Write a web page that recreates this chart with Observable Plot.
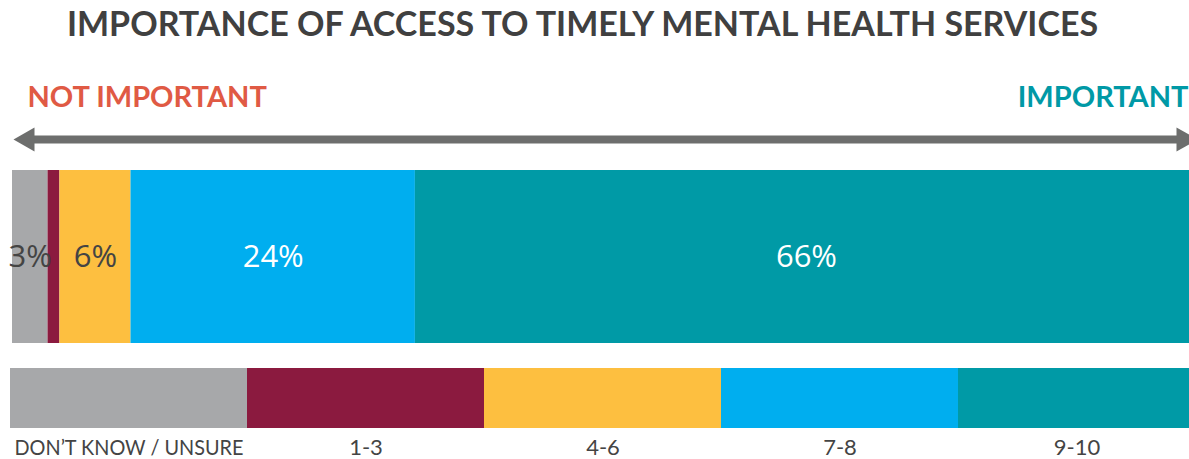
<!DOCTYPE html>
<html>
<head>
<meta charset="utf-8">
<script src="https://cdn.jsdelivr.net/npm/d3@7"></script>
<script src="https://cdn.jsdelivr.net/npm/@observablehq/plot@0.6"></script>
<style>
  html, body { margin: 0; padding: 0; background: #fff; overflow: hidden; }
  #title { height: 48px; line-height: 46px; text-align: center; padding-right: 24px; font-family: Lato, sans-serif; font-weight: 700; font-size: 34px; color: #404040; white-space: nowrap; }
  svg { display: block; overflow: visible; }
</style>
</head>
<body>
<div id="title">IMPORTANCE OF ACCESS TO TIMELY MENTAL HEALTH SERVICES</div>
<div id="main"></div>
<div id="legend"></div>
<script>
const categories = ["DON’T KNOW / UNSURE", "1-3", "4-6", "7-8", "9-10"];
const values = [3, 1, 6, 24, 66];
const leftLabel = "NOT IMPORTANT";
const rightLabel = "IMPORTANT";

const data = categories.map((c, i) => ({category: c, value: values[i]}));
const colorScale = {domain: categories, range: ["#A7A8AA", "#8B1A3F", "#FDBF40", "#00AEEF", "#009AA6"]};
const darkLabel = new Set(["DON’T KNOW / UNSURE", "4-6"]);

const main = Plot.plot({
  width: 1189,
  height: 297,
  marginLeft: 12,
  marginRight: 1,
  marginTop: 122,
  marginBottom: 2,
  x: {domain: [0, 100], range: [12, 1197], axis: null},
  y: {domain: [0, 1], axis: null},
  color: colorScale,
  marks: [
    Plot.text([leftLabel], {frameAnchor: "top-left", text: d => d, dx: 15, dy: -73, lineAnchor: "middle", textAnchor: "start", fill: "#E05A44", fontSize: 29, fontWeight: 700, fontFamily: "Lato, sans-serif"}),
    Plot.text([rightLabel], {frameAnchor: "top-right", text: d => d, dx: 0, dy: -73, lineAnchor: "middle", textAnchor: "end", fill: "#0099A6", fontSize: 29, fontWeight: 700, fontFamily: "Lato, sans-serif"}),
    Plot.ruleY([1], {x1: 0, x2: 100, dy: -31, stroke: "#6D6E6D", strokeWidth: 8, insetLeft: 18, insetRight: 18}),
    Plot.dot([0], {x: d => d, y: 1, dx: 15, dy: -31, symbol: "triangle", r: 9, rotate: -90, fill: "#6D6E6D", stroke: "none"}),
    Plot.dot([100], {x: d => d, y: 1, dx: -14, dy: -31, symbol: "triangle", r: 9, rotate: 90, fill: "#6D6E6D", stroke: "none"}),
    Plot.barX(data, {x: "value", fill: "category"}),
    Plot.text(data, Plot.stackX({x: "value", text: d => d.value >= 2 ? `${d.value}%` : null, fill: d => darkLabel.has(d.category) ? "#444444" : "#ffffff", fontSize: 31, fontFamily: "'Open Sans', sans-serif", lineAnchor: "middle"}))
  ]
});
document.getElementById("main").append(main);

const legend = Plot.plot({
  width: 1189,
  height: 114,
  marginLeft: 9,
  marginRight: 1,
  marginTop: 23,
  marginBottom: 31,
  x: {type: "band", domain: categories, range: [9, 1196], padding: 0, axis: null},
  color: colorScale,
  marks: [
    Plot.cell(categories, {x: d => d, fill: d => d}),
    Plot.text(categories, {x: d => d, text: d => d, frameAnchor: "bottom", dy: 19, lineAnchor: "middle", fill: "#444444", fontSize: 22, fontFamily: "Lato, sans-serif"})
  ]
});
document.getElementById("legend").append(legend);
legend.querySelectorAll("text").forEach(t => {
  if (t.textContent === categories[0]) {
    t.setAttribute("textLength", 229);
    t.setAttribute("lengthAdjust", "spacingAndGlyphs");
  }
});
</script>
</body>
</html>
